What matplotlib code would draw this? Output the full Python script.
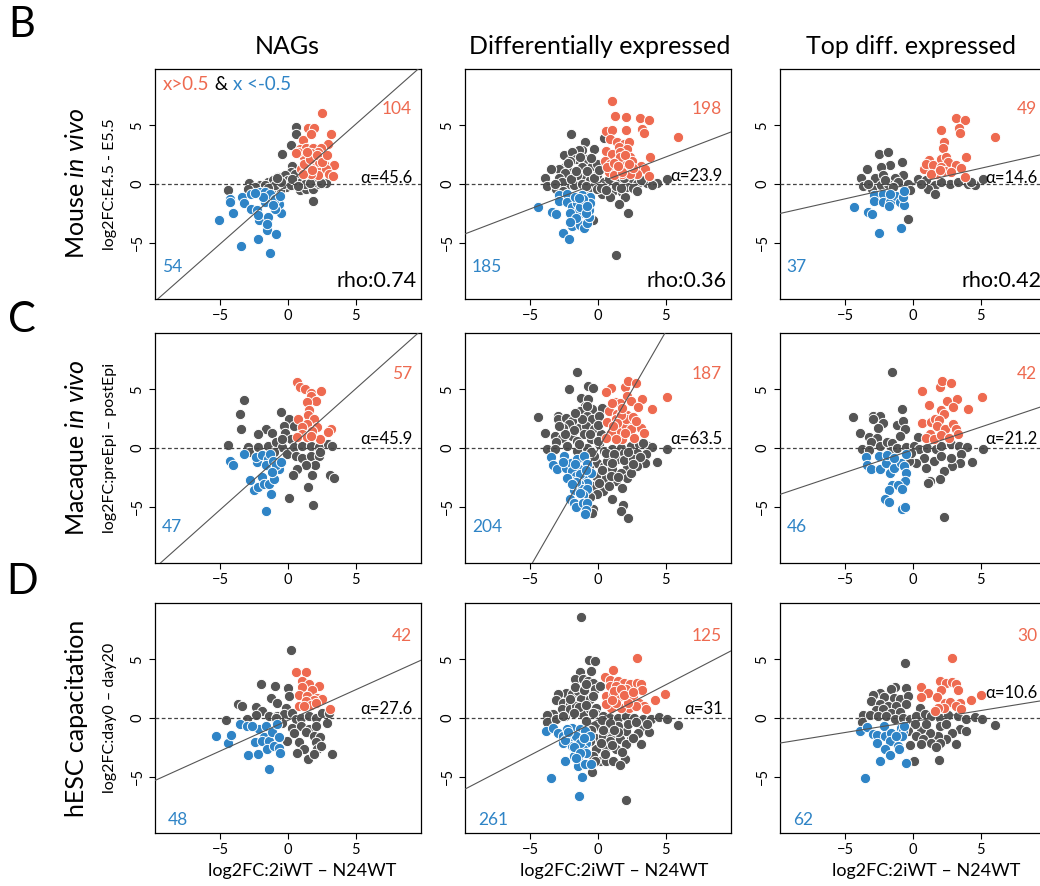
import numpy as np
import matplotlib
matplotlib.use("Agg")
import matplotlib.pyplot as plt

plt.rcParams['font.family'] = ['Lato', 'DejaVu Sans']
plt.rcParams['mathtext.fontset'] = 'custom'
plt.rcParams['mathtext.rm'] = 'Lato'
plt.rcParams['mathtext.it'] = 'Lato:italic'

# Labels
col_titles = ["NAGs", "Differentially expressed", "Top diff. expressed"]
row_letters = ["B", "C", "D"]
row_titles = ["Mouse $\\mathit{in\\ vivo}$", "Macaque $\\mathit{in\\ vivo}$", "hESC capacitation"]
row_ylabels = ["log2FC:E4.5 - E5.5", "log2FC:preEpi \u2013 postEpi", "log2FC:day0 \u2013 day20"]
xlabel = "log2FC:2iWT \u2013 N24WT"

# Annotations per panel (rows: mouse, macaque, hESC; cols: NAGs, DE, top DE)
up_counts = [[104, 198, 49], [57, 187, 42], [42, 125, 30]]
down_counts = [[54, 185, 37], [47, 204, 46], [48, 261, 62]]
rho_labels = ["rho:0.74", "rho:0.36", "rho:0.42"]
alphas = [[45.6, 23.9, 14.6], [45.9, 63.5, 21.2], [27.6, 31, 10.6]]
intercepts = [[0.0, 0.09, 0.04], [-0.1, -0.1, -0.15], [-0.2, -0.17, -0.3]]

# ---- Mouse in vivo ----
mouse_nags_grey = [(0.56, 4.83), (0.56, 4.27), (0.24, 3.33), (-0.41, 2.54), (0.3, 1.53), (0.24, 1.0),
    (1.83, -1.41), (-2.88, 0.08), (-4.39, -0.5), (-2.07, -0.05), (-1.46, 0.17), (-1.1, 0.3), (-0.73, 0.6),
    (-0.24, 0.73), (0.0, 0.3), (0.49, 0.17), (0.85, -0.54), (1.34, -0.4), (1.83, -0.4), (2.32, 0.03),
    (2.8, 0.08), (1.95, 0.17), (0.73, 0.6), (-0.12, -0.25), (-0.61, -0.54), (-1.22, -0.54), (-1.71, -0.11),
    (-2.44, -0.25), (-2.93, -0.4), (0.85, 0.17), (1.22, 0.03), (2.44, 0.08), (-0.98, -0.11), (-0.37, 0.03),
    (0.24, -0.11), (0.49, 0.88), (-0.5, 0.2), (0.3, 0.4), (-1.5, -0.3), (1.6, 0.1), (0.7, -0.2), (-0.8, 0.5)]
mouse_nags_up = [(2.5, 6.05), (1.46, 4.75), (1.9, 4.8), (3.17, 4.3), (1.1, 3.75), (1.66, 4.27), (2.93, 3.4),
    (0.85, 3.0), (1.34, 3.1), (1.83, 3.1), (2.44, 3.1), (2.2, 2.7), (1.7, 2.6), (1.2, 2.3), (2.07, 2.15),
    (2.56, 2.3), (3.4, 1.64), (2.68, 1.72), (1.95, 1.58), (1.34, 1.53), (0.98, 1.3), (1.46, 1.0), (2.07, 1.44),
    (2.44, 1.44), (2.8, 1.3), (3.05, 0.88), (3.29, 0.68), (2.2, 0.73), (1.7, 0.88), (1.1, 0.88), (0.73, 2.7),
    (0.6, 2.6), (1.15, 1.72), (2.3, 1.86), (1.6, 2.1), (2.1, 2.5), (1.8, 1.2), (2.5, 1.9), (1.4, 2.7), (2.9, 2.5)]
mouse_nags_down = [(-5.12, -3.05), (-4.24, -1.3), (-4.24, -1.53), (-4.02, -2.51), (-3.41, -1.1), (-3.22, -1.58),
    (-2.76, -0.82), (-2.76, -2.12), (-2.29, -2.23), (-2.15, -3.08), (-2.2, -2.63), (-3.46, -5.25), (-2.22, -4.72),
    (-1.34, -5.85), (-1.54, -3.93), (-1.46, -2.8), (-1.54, -3.45), (-0.85, -4.29), (-0.55, -2.49), (-0.66, -1.67),
    (-0.98, -2.09), (-1.22, -1.53), (-1.71, -1.53), (-2.07, -0.68), (-1.71, -0.68), (-1.34, -0.82), (-0.98, -1.24),
    (-0.6, -1.05), (-1.83, -1.1), (-2.44, -0.73), (-1.1, -1.81)]

mouse_de_grey = [(-1.96, 4.24), (-0.93, 3.54), (0.42, 3.9), (-1.18, 2.92), (-1.42, 2.92), (-2.52, 2.47),
    (-1.91, 2.7), (-0.32, 2.98), (-1.62, 2.13), (-0.81, 2.13), (-2.4, 1.49), (-2.89, 1.29), (-3.46, 1.26),
    (-1.18, 1.43), (-0.44, 1.57), (-1.91, 1.01), (-2.4, 0.93), (-3.87, 0.53), (-2.89, 0.51), (-3.75, -0.17),
    (-3.06, -0.45), (-2.28, -0.11), (-1.54, 0.17), (-1.05, 0.59), (-0.56, 0.31), (-0.07, 0.73), (0.42, 0.17),
    (1.03, 0.17), (1.64, 0.31), (2.38, 0.17), (2.87, 0.03), (3.6, 0.08), (4.34, 0.08), (5.07, 0.42),
    (3.97, -0.11), (1.15, -0.53), (1.76, -0.67), (0.29, -0.81), (0.91, -1.1), (2.01, -1.1), (1.52, -1.74),
    (2.2, -2.5), (-0.37, -3.03), (1.35, -6.07), (-0.93, -0.53), (-1.79, -0.11), (-2.65, 0.17), (-0.56, -0.25),
    (-0.07, -0.39), (0.54, -0.11), (2.13, -0.25), (-1.54, 0.73), (-2.03, 2.0), (-0.81, 1.15), (-0.07, 1.71),
    (-2.0, 0.4), (-1.2, 0.0), (-0.3, 0.5), (0.2, -0.3), (0.8, 0.4), (1.3, -0.2), (1.9, 0.5), (2.6, -0.3),
    (3.2, 0.3), (-1.6, 1.1), (-2.6, -0.6), (-0.9, -0.2), (0.1, 1.2), (-1.3, 2.3), (-2.2, 1.8), (0.6, -0.5),
    (1.7, -0.3), (2.9, -0.6), (-3.2, 0.0), (-0.5, 2.2)]
mouse_de_up = [(1.03, 7.1), (1.23, 5.76), (2.08, 5.73), (3.06, 5.65), (3.73, 5.45), (3.26, 4.72), (3.36, 4.35),
    (0.61, 4.52), (1.03, 4.6), (2.03, 4.58), (5.93, 4.02), (0.91, 3.82), (1.4, 3.54), (1.89, 3.4), (2.25, 3.54),
    (1.52, 3.12), (2.13, 2.98), (0.59, 2.84), (1.03, 2.56), (1.64, 2.7), (2.38, 2.28), (3.85, 2.28), (0.55, 2.0),
    (0.91, 1.71), (1.4, 2.0), (1.89, 1.71), (2.5, 2.0), (2.13, 1.29), (1.4, 1.29), (0.78, 1.01), (3.16, 1.57),
    (3.48, 1.29), (3.75, 0.65), (2.87, 0.87), (1.76, 0.87), (2.38, 0.87), (1.15, 0.73), (0.66, 1.43),
    (1.6, 2.3), (2.0, 2.5), (1.8, 1.0), (2.6, 1.4), (1.2, 1.8), (2.3, 1.7), (1.5, 1.5)]
mouse_de_down = [(-4.41, -1.94), (-3.38, -2.36), (-3.06, -2.58), (-2.57, -4.19), (-2.16, -4.69), (-2.89, -0.96),
    (-2.89, -1.43), (-2.28, -0.87), (-2.28, -1.52), (-1.91, -1.94), (-1.79, -2.7), (-1.91, -3.62), (-1.54, -3.06),
    (-1.3, -3.48), (-1.05, -3.76), (-0.81, -3.34), (-0.69, -2.78), (-1.18, -2.44), (-0.69, -2.22), (-1.05, -1.66),
    (-1.54, -1.66), (-1.18, -0.96), (-1.67, -1.1), (-0.61, -1.1), (-0.56, -1.66), (-1.42, -2.22), (-2.03, -2.5),
    (-1.3, -2.0), (-0.9, -2.5), (-1.6, -2.9), (-1.1, -1.3), (-0.8, -1.9), (-1.4, -1.2), (-2.1, -3.2)]

mouse_top_grey = [(-2.51, 2.56), (-1.84, 2.76), (-1.72, 1.58), (-2.33, 1.49), (-0.81, 1.86), (-3.39, 1.27),
    (-3.81, 0.54), (-2.83, 0.51), (-0.74, 0.73), (-2.21, 0.73), (-1.35, 0.51), (-3.69, -0.17), (-3.02, -0.45),
    (-2.33, -0.11), (-1.84, 0.03), (-1.11, 0.17), (-0.37, 0.03), (0.37, 0.45), (0.98, 0.31), (1.6, -0.11),
    (1.11, -0.39), (1.6, -0.82), (2.7, 0.03), (3.32, 0.17), (4.05, 0.03), (4.55, -0.06), (5.16, 0.45),
    (-0.37, -3.01), (-0.25, -0.54), (-1.47, -0.25), (0.61, 0.03), (2.09, 0.17), (4.3, 0.17), (-2.09, 0.31),
    (-3.32, 0.03)]
mouse_top_up = [(3.14, 5.66), (3.81, 5.46), (3.37, 4.73), (3.44, 4.34), (2.09, 4.59), (6.07, 4.03), (2.29, 3.61),
    (2.21, 3.07), (1.18, 2.08), (0.81, 1.3), (0.98, 1.72), (1.47, 1.58), (3.93, 2.28), (2.09, 2.14), (2.46, 2.28),
    (2.58, 1.86), (2.09, 1.44), (2.38, 1.1), (3.19, 1.58), (3.56, 1.38), (3.81, 0.59), (1.72, 0.87), (1.3, 0.82),
    (2.83, 1.01), (1.97, 1.21)]
mouse_top_down = [(-4.35, -1.94), (-3.32, -2.37), (-3.02, -2.59), (-2.51, -4.2), (-0.91, -3.77), (-2.87, -0.96),
    (-2.87, -1.44), (-2.21, -0.82), (-2.21, -1.52), (-1.72, -1.52), (-1.77, -1.89), (-1.28, -1.01), (-0.98, -1.52),
    (-0.66, -1.8), (-0.74, -1.1), (-0.69, -0.59), (-1.72, -0.82)]

# ---- Macaque in vivo ----
macaque_nags_grey = [(-3.22, 4.08), (-3.51, 2.93), (-3.46, 1.61), (-0.54, 3.1), (0.1, 2.45), (-1.59, 1.61),
    (-2.24, 1.18), (-1.15, 1.24), (-0.29, 1.89), (0.44, 1.89), (-0.24, 1.32), (0.2, 0.76), (-4.44, 0.28),
    (-2.98, 0.11), (-2.85, -0.37), (-2.24, 0.06), (-1.51, 0.2), (-0.9, 0.48), (-0.41, 0.06), (-0.05, -0.51),
    (0.44, 0.06), (1.05, 0.2), (1.66, 0.2), (2.27, 0.06), (2.95, 0.34), (3.24, 0.2), (0.56, -0.65), (1.05, -0.87),
    (1.66, -0.65), (2.27, -0.65), (2.02, -1.41), (1.29, -1.49), (0.63, -1.77), (0.39, -2.34), (1.78, -2.34),
    (1.46, -3.32), (3.12, -2.34), (3.41, -2.54), (0.07, -4.23), (1.83, -4.85), (2.39, -0.37), (-1.02, -0.37),
    (-0.41, 0.76)]
macaque_nags_up = [(0.68, 5.63), (0.85, 5.21), (1.24, 4.99), (1.73, 4.7), (1.73, 4.42), (2.44, 4.85), (2.07, 4.0),
    (1.41, 3.94), (1.54, 3.21), (1.49, 2.79), (0.76, 2.45), (1.9, 2.45), (1.41, 2.03), (2.1, 1.83), (1.05, 1.75),
    (1.78, 1.46), (1.05, 1.18), (0.68, 0.9), (1.41, 0.9), (2.39, 0.76), (3.2, 1.61), (2.93, 1.38), (1.66, 1.04)]
macaque_nags_down = [(-4.27, -1.07), (-4.05, -1.44), (-3.27, -0.54), (-2.78, -2.73), (-2.54, -3.55), (-2.24, -3.32),
    (-2.29, -1.21), (-1.95, -2.48), (-2.37, -0.79), (-1.88, -0.56), (-1.51, -0.93), (-1.59, -1.49), (-1.76, -3.04),
    (-1.39, -3.1), (-1.27, -3.92), (-1.59, -5.35), (-1.32, -0.51), (-1.07, -1.07), (-1.02, -2.62), (-0.66, -1.77),
    (-0.9, -1.49), (-0.54, -1.21), (-1.15, -2.06)]

macaque_de_grey = [(-1.53, 6.46), (-2.14, 5.07), (-0.74, 5.27), (-0.37, 5.13), (-1.23, 4.22), (-0.74, 4.14),
    (-4.41, 2.63), (-2.93, 2.72), (-2.93, 2.44), (-2.34, 2.58), (-1.9, 2.29), (-2.14, 2.07), (-2.59, 1.73),
    (-3.87, 1.3), (-3.2, 1.02), (-2.64, 0.88), (-3.13, 0.51), (-1.9, 1.02), (-1.4, 1.73), (-0.99, 3.57),
    (-1.33, 3.14), (-0.42, 3.29), (-0.79, 2.72), (-0.42, 2.44), (0.32, 3.43), (0.07, 2.72), (-0.91, 1.87),
    (-0.3, 1.59), (-1.03, 1.16), (-0.54, 0.74), (0.2, 1.16), (-1.53, 0.59), (-3.74, -0.11), (-3.2, -0.11),
    (-2.27, 0.17), (-1.53, -0.25), (-0.79, 0.03), (0.07, 0.31), (0.44, -0.25), (1.06, -0.11), (1.67, 0.03),
    (2.41, 0.17), (3.03, 0.31), (3.65, 0.17), (4.01, 0.08), (5.12, -0.06), (3.52, -0.54), (3.47, -1.25),
    (4.33, -1.19), (2.86, -1.53), (2.17, -1.67), (1.43, -0.96), (0.81, -0.68), (-0.05, -1.25), (0.44, -1.53),
    (1.06, -1.81), (1.67, -2.1), (1.31, -2.8), (2.17, -2.52), (1.8, -3.37), (0.44, -2.66), (-0.17, -2.38),
    (-0.3, -3.23), (0.39, -3.65), (-0.05, -3.94), (1.01, -4.36), (-0.34, -5.16), (-0.42, -5.5), (1.87, -4.87),
    (1.67, -5.35), (2.22, -5.95), (2.41, -0.68), (1.92, -0.4), (2.91, -0.4), (-0.3, -0.68), (-1.03, -0.82),
    (0.94, -2.38), (2.41, -2.1), (0.69, -1.1), (-0.67, -1.67),
    (-1.8, 1.5), (-1.2, 2.5), (-0.6, 1.2), (0.0, 0.6), (0.6, -0.4), (1.2, -0.5), (1.9, -1.0), (2.6, -0.9),
    (3.1, -0.8), (1.0, -1.3), (0.3, -1.9), (-0.5, -0.3), (-1.4, 0.3), (-2.4, 1.2), (-2.9, 1.9), (1.5, -2.5),
    (2.6, -1.4), (0.1, -3.0), (0.8, -3.2), (-0.6, -4.2), (0.0, 2.0), (-0.8, 3.6), (-1.7, 3.0), (3.3, 0.4),
    (2.2, -0.3)]
macaque_de_up = [(0.94, 5.13), (0.62, 4.76), (2.0, 5.21), (2.22, 5.69), (2.83, 5.55), (2.12, 4.42), (1.26, 3.91),
    (1.63, 3.8), (2.46, 3.97), (3.23, 4.14), (5.07, 4.36), (4.01, 3.29), (2.96, 3.51), (0.81, 3.14), (1.43, 2.92),
    (2.17, 2.78), (0.69, 2.21), (1.31, 2.44), (1.92, 1.87), (2.41, 2.44), (2.91, 2.01), (3.15, 1.73), (2.41, 1.59),
    (1.43, 1.44), (0.94, 1.3), (0.57, 0.88), (1.8, 0.79), (1.31, 0.74), (2.66, 0.88), (3.4, 1.3), (2.04, 2.44),
    (1.06, 3.85), (1.7, 2.8), (1.4, 2.1), (2.6, 2.6), (2.0, 1.3), (1.1, 1.9), (2.8, 2.3), (1.8, 3.4)]
macaque_de_down = [(-3.45, -0.74), (-3.35, -1.42), (-3.05, -1.76), (-2.39, -1.73), (-2.51, -0.68), (-2.02, -1.25),
    (-1.53, -0.96), (-1.03, -0.68), (-0.79, -1.39), (-1.4, -1.81), (-1.9, -1.95), (-1.65, -2.38), (-2.02, -2.8),
    (-1.03, -2.66), (-0.79, -2.95), (-1.4, -3.09), (-1.77, -3.57), (-1.16, -3.51), (-0.79, -3.51), (-1.08, -4.02),
    (-2.07, -4.36), (-1.77, -4.65), (-1.6, -5.07), (-1.08, -4.65), (-0.79, -4.7), (-0.91, -5.27), (-0.96, -5.64),
    (-0.54, -2.1), (-2.27, -2.52), (-1.3, -2.2), (-1.6, -2.9), (-1.3, -3.8), (-1.9, -3.1), (-0.9, -1.9),
    (-1.7, -1.4), (-2.6, -1.2)]

macaque_top_grey = [(-1.53, 6.46), (-0.81, 3.34), (-4.42, 2.63), (-2.94, 2.72), (-2.4, 2.72), (-2.94, 2.44),
    (-2.2, 2.1), (-2.59, 1.73), (-1.16, 1.93), (-0.74, 2.29), (-0.62, 1.59), (-0.96, 1.02), (-3.88, 1.3),
    (-3.21, 0.96), (-2.64, 0.88), (-3.09, 0.54), (-3.75, -0.11), (-3.26, -0.2), (-2.4, 0.17), (-1.9, 0.51),
    (-1.53, 0.4), (-1.65, -0.25), (-1.16, 0.03), (-0.54, 0.08), (0.4, 0.96), (0.07, 0.17), (0.44, -0.11),
    (1.06, 0.03), (1.68, -0.06), (2.05, 0.17), (2.79, 0.31), (3.41, 0.17), (3.98, 0.08), (5.14, -0.06),
    (3.53, -0.54), (3.46, -1.25), (4.32, -1.19), (2.84, -1.53), (2.25, -1.98), (1.98, -2.66), (1.26, -2.8),
    (1.11, -2.95), (0.94, -1.73), (1.56, -1.1), (0.81, -0.82), (0.2, -1.25), (-0.3, -1.1), (2.25, -5.92),
    (2.05, -0.68), (2.79, -0.82), (-0.17, -0.4)]
macaque_top_up = [(0.69, 4.84), (2.0, 5.21), (2.17, 5.69), (2.79, 5.55), (2.49, 3.97), (3.26, 4.14), (5.06, 4.36),
    (1.19, 3.63), (2.05, 3.23), (4.02, 3.29), (2.3, 2.92), (2.96, 3.51), (0.69, 2.15), (1.31, 2.24), (1.6, 2.49),
    (1.93, 2.38), (1.75, 1.87), (2.35, 1.59), (2.96, 2.01), (3.16, 1.64), (3.28, 1.16), (1.23, 1.16), (0.94, 0.88),
    (1.56, 0.74), (2.05, 1.08), (2.67, 0.88)]
macaque_top_down = [(-3.48, -0.74), (-3.38, -1.42), (-3.06, -1.76), (-2.4, -1.81), (-2.52, -0.68), (-1.98, -1.25),
    (-1.73, -2.1), (-1.41, -1.67), (-0.91, -1.25), (-0.55, -0.54), (-0.67, -1.53), (-0.54, -2.15), (-0.6, -2.8),
    (-1.53, -3.14), (-1.09, -3.14), (-1.78, -3.6), (-0.79, -3.51), (-2.07, -4.36), (-1.78, -4.59), (-0.79, -5.21),
    (-0.62, -5.01), (-1.9, -0.6), (-1.41, -0.82)]

# ---- hESC capacitation ----
hesc_nags_grey = [(0.25, 5.83), (-1.99, 2.86), (-0.96, 2.69), (-0.02, 2.55), (0.07, 1.9), (-3.66, 1.2),
    (-3.37, 1.01), (-2.38, 0.92), (-1.28, 1.71), (-0.84, 1.29), (-0.17, 0.87), (-1.89, 0.59), (-2.38, 0.25),
    (-3.0, -0.11), (-4.59, -0.2), (-1.4, 0.17), (-0.79, 0.17), (-0.29, 0.31), (0.32, 0.45), (0.57, -0.11),
    (0.93, 0.03), (1.55, 0.17), (2.04, 0.03), (2.48, 0.45), (3.02, 0.39), (2.9, -0.39), (0.32, -0.81),
    (0.93, -0.67), (1.55, -0.9), (2.04, -0.67), (1.3, -1.23), (0.44, -1.32), (-0.05, -1.93), (0.81, -2.02),
    (1.92, -1.51), (2.33, -1.6), (2.04, -2.07), (2.16, -2.63), (1.18, -2.63), (0.64, -2.97), (1.5, -3.53),
    (1.92, -3.05), (3.27, -3.05), (2.41, -2.35), (-0.42, -0.39), (-0.91, 0.03)]
hesc_nags_up = [(0.57, 3.92), (1.3, 3.89), (1.06, 3.17), (1.55, 2.89), (2.29, 2.69), (1.06, 2.61), (0.81, 1.99),
    (1.79, 2.41), (1.43, 1.9), (2.16, 1.71), (2.53, 1.62), (1.92, 1.57), (1.3, 1.43), (0.81, 1.01), (1.67, 1.15),
    (2.04, 1.29), (3.1, 0.73), (1.18, 1.01)]
hesc_nags_down = [(-5.33, -1.57), (-4.45, -2.13), (-4.2, -1.43), (-3.56, -0.53), (-2.95, -3.19), (-2.21, -3.08),
    (-2.43, -2.02), (-3.0, -0.67), (-2.14, -0.95), (-1.65, -0.67), (-1.77, -1.65), (-1.89, -1.99), (-1.4, -1.99),
    (-1.52, -2.63), (-1.03, -2.35), (-0.66, -2.58), (-0.59, -2.97), (-1.4, -4.31), (-1.15, -1.23), (-0.66, -1.65),
    (-2.63, -0.67), (-0.79, -0.53)]

hesc_de_grey = [(-1.22, 8.64), (-0.66, 4.97), (-0.2, 4.83), (-0.49, 3.98), (-1.34, 3.9), (-1.66, 3.33),
    (-1.1, 3.33), (-0.73, 3.14), (-0.37, 2.99), (-2.39, 2.15), (-2.93, 2.01), (-3.1, 1.5), (-1.95, 2.01),
    (-1.46, 2.29), (-0.85, 2.15), (-0.24, 2.43), (0.12, 2.71), (-1.22, 1.58), (-0.61, 1.58), (-2.56, 1.3),
    (-2.07, 1.16), (-2.68, 0.73), (-3.29, 0.31), (-3.78, 0.25), (-3.78, -0.31), (-3.1, -0.11), (-2.44, 0.17),
    (-2.07, 0.73), (-1.59, 1.02), (-1.1, 0.31), (-0.61, 0.73), (-0.12, 0.88), (-0.12, 0.31), (0.37, 0.17),
    (0.85, 0.03), (1.46, 0.03), (2.07, 0.17), (2.68, 0.03), (3.29, -0.06), (3.9, -0.11), (4.51, 0.08),
    (5.05, -0.06), (5.93, -0.56), (3.29, -0.9), (3.78, -1.19), (2.93, -1.24), (3.17, -2.23), (2.44, -1.81),
    (2.07, -1.1), (1.46, -0.68), (0.85, -0.96), (0.37, -0.68), (-0.24, -0.68), (-0.73, -1.24), (-0.24, -1.67),
    (0.37, -1.53), (0.98, -1.67), (1.59, -1.81), (2.07, -2.23), (1.34, -2.66), (0.61, -2.51), (-0.12, -2.66),
    (-0.37, -3.22), (0.12, -3.64), (0.61, -3.64), (1.1, -3.64), (2.02, -3.5), (1.59, -4.01), (-0.44, -4.58),
    (2.07, -6.98), (-0.61, -1.95), (0.85, -1.95), (-0.85, -0.25),
    (-1.7, 2.6), (-1.0, 2.4), (-0.4, 1.9), (-2.1, 1.6), (-1.4, 0.9), (-0.9, 1.1), (-0.4, 0.4), (0.3, -0.2),
    (0.9, -0.4), (1.5, -1.2), (2.2, -0.5), (2.6, -1.7), (1.0, -2.3), (0.2, -2.1), (-0.5, -1.0), (1.8, -2.9),
    (0.5, -3.1), (-0.2, -3.7), (1.2, -1.0), (2.8, -0.3), (-2.6, 0.2), (-1.8, 0.4), (-0.9, 2.9), (0.4, -1.0),
    (3.6, -0.5)]
hesc_de_up = [(2.88, 5.11), (1.1, 4.07), (0.55, 3.47), (0.85, 3.28), (1.46, 3.14), (1.95, 2.99), (2.39, 2.94),
    (2.85, 2.99), (3.17, 2.91), (0.85, 2.71), (1.34, 2.71), (2.07, 2.43), (3.22, 2.37), (0.61, 1.86), (1.1, 2.15),
    (1.59, 1.86), (2.56, 1.86), (4.95, 2.01), (4.22, 1.53), (3.05, 1.3), (3.41, 1.02), (3.54, 0.73), (2.32, 0.88),
    (1.71, 0.88), (0.98, 0.88), (1.34, 1.3), (0.61, 1.16), (2.8, 1.02), (1.2, 2.3), (1.7, 2.5), (1.0, 1.5),
    (2.2, 1.3), (1.9, 2.0), (2.6, 2.2)]
hesc_de_down = [(-3.85, -1.1), (-3.34, -0.82), (-3.46, -5.11), (-2.93, -1.3), (-2.61, -1.53), (-2.56, -2.09),
    (-2.44, -3.64), (-1.95, -0.82), (-2.07, -1.53), (-1.71, -1.95), (-1.95, -2.37), (-1.34, -0.96), (-0.98, -1.1),
    (-1.22, -1.67), (-0.85, -2.09), (-1.59, -2.66), (-1.1, -2.66), (-0.85, -2.94), (-1.46, -3.36), (-1.76, -3.22),
    (-1.46, -4.07), (-0.98, -3.93), (-0.54, -3.93), (-1.15, -5.0), (-1.39, -6.67), (-0.61, -1.53), (-2.32, -0.96),
    (-1.6, -1.5), (-1.3, -2.1), (-1.8, -2.5), (-1.0, -1.7), (-2.4, -1.9), (-1.3, -3.0), (-2.2, -1.2), (-1.6, -3.4)]

hesc_top_grey = [(-0.57, 4.69), (-1.31, 2.66), (-0.49, 2.57), (-1.65, 2.43), (-2.46, 2.15), (-2.96, 1.98),
    (-2.17, 1.81), (-1.43, 1.72), (-0.94, 1.58), (-0.37, 1.86), (-3.08, 1.44), (-2.46, 1.16), (-1.85, 1.02),
    (-1.23, 1.02), (-0.49, 1.16), (-2.71, 0.65), (-2.22, 0.73), (-1.6, 0.45), (-0.99, 0.51), (0.49, 0.88),
    (-3.69, 0.23), (-3.77, -0.31), (-3.2, 0.23), (-2.59, 0.17), (-1.97, 0.17), (-1.35, -0.11), (-0.74, 0.03),
    (-0.25, -0.11), (0.25, 0.17), (0.86, 0.31), (1.35, 0.17), (1.97, 0.03), (2.59, 0.23), (3.33, 0.17),
    (3.94, -0.06), (4.56, 0.08), (5.12, -0.06), (6.03, -0.56), (3.45, -0.9), (3.89, -1.13), (2.88, -1.3),
    (3.15, -2.23), (2.46, -1.81), (1.85, -1.53), (1.23, -1.24), (0.62, -0.96), (0.99, -0.54), (0.12, -0.54),
    (-0.37, -1.1), (0.25, -1.53), (0.74, -1.81), (1.35, -2.09), (1.97, -2.09), (1.72, -2.51), (0.62, -2.23),
    (-0.25, -2.29), (0.07, -3.64), (1.9, -3.59), (1.97, -0.68), (2.46, -0.54)]
hesc_top_up = [(2.91, 5.11), (0.62, 2.66), (2.02, 3.14), (2.46, 2.99), (2.88, 3.11), (3.2, 2.94), (2.09, 2.37),
    (3.33, 2.37), (1.11, 2.09), (0.57, 1.78), (1.8, 1.81), (4.98, 1.98), (4.26, 1.53), (2.34, 1.3), (2.71, 1.36),
    (3.45, 1.3), (3.2, 1.02), (3.5, 0.79), (2.29, 0.85), (1.85, 0.88), (1.6, 0.59)]
hesc_top_down = [(-3.89, -1.1), (-3.4, -0.79), (-3.52, -5.11), (-2.96, -1.33), (-2.64, -1.47), (-2.64, -2.09),
    (-2.46, -3.64), (-2.17, -0.68), (-2.09, -1.53), (-1.65, -1.24), (-1.72, -1.95), (-2.09, -2.66), (-1.72, -3.16),
    (-1.11, -2.37), (-1.06, -2.66), (-0.86, -0.82), (-0.74, -1.1), (-0.79, -1.53), (-0.5, -3.87), (-1.23, -1.53),
    (-0.69, -0.68)]

panels = [
    [(mouse_nags_grey, mouse_nags_up, mouse_nags_down),
     (mouse_de_grey, mouse_de_up, mouse_de_down),
     (mouse_top_grey, mouse_top_up, mouse_top_down)],
    [(macaque_nags_grey, macaque_nags_up, macaque_nags_down),
     (macaque_de_grey, macaque_de_up, macaque_de_down),
     (macaque_top_grey, macaque_top_up, macaque_top_down)],
    [(hesc_nags_grey, hesc_nags_up, hesc_nags_down),
     (hesc_de_grey, hesc_de_up, hesc_de_down),
     (hesc_top_grey, hesc_top_up, hesc_top_down)],
]

# Style / layout (pixels of the 1040x886 figure)
RED = "#EE6A50"
BLUE = "#2F84C6"
GREY = "#555555"
LINE = "#555555"
W, H = 1040, 886
lefts = [155, 465, 780]
tops = [69, 333, 603]
aw, ah = 266, 230
lim = 9.8
title_x = [287, 600, 911]
xlabel_x = [302, 614, 926]
letter_y = [25, 320, 582]
up_y = [6.4, 6.3, 7.0]
down_xy = [(-9.3, -7.1), (-9.3, -6.75), (-8.85, -8.7)]
alpha_y = [[0.55, 0.65, 0.5], [0.75, 0.8, 0.8], [0.78, 0.73, 2.1]]


def fx(px):
    return px / W


def fy(py):
    return 1 - py / H


fig = plt.figure(figsize=(W / 100, H / 100), dpi=100)

for r in range(3):
    for c in range(3):
        ax = fig.add_axes([fx(lefts[c]), fy(tops[r] + ah), aw / W, ah / H])
        grey, up, down = panels[r][c]
        for pts, col in ((grey, GREY), (up, RED), (down, BLUE)):
            xs, ys = zip(*pts)
            ax.scatter(xs, ys, s=55, c=col, edgecolors="white", linewidths=0.7, zorder=2)
        ax.axhline(0, color="#444444", lw=0.9, ls=(0, (3, 2)), zorder=3)
        ax.axline((0, intercepts[r][c]), slope=np.tan(np.radians(alphas[r][c])),
                  color=LINE, lw=0.8, zorder=3)
        ax.set_xlim(-lim, lim)
        ax.set_ylim(-lim, lim)
        ax.set_xticks([-5, 0, 5])
        ax.set_yticks([-5, 0, 5])
        ax.tick_params(direction="out", length=4.5, width=0.8, labelsize=10.5, pad=3)
        ax.tick_params(axis="y", labelrotation=90)
        for lab in ax.get_yticklabels():
            lab.set_va("center")
        for sp in ax.spines.values():
            sp.set_linewidth(0.9)

        ax.text(9.15, up_y[r], str(up_counts[r][c]), color=RED, fontsize=12.5,
                ha="right", va="center")
        ax.text(down_xy[r][0], down_xy[r][1], str(down_counts[r][c]), color=BLUE,
                fontsize=12.5, ha="left", va="center")
        ax.text(9.2, alpha_y[r][c], f"\u03b1={alphas[r][c]:g}", fontsize=12,
                ha="right", va="center", zorder=4)
        if r == 0:
            ax.text(9.45, -8.3, rho_labels[c], fontsize=15.5, ha="right", va="center")
        if r == 0 and c == 0:
            t1 = ax.text(-9.2, 8.45, "x>0.5", color=RED, fontsize=13.5, ha="left", va="center")
            t2 = ax.annotate(" & ", xy=(1, 0), xycoords=t1, ha="left", va="bottom",
                             fontsize=13.5, color="black")
            ax.annotate("x <-0.5", xy=(1, 0), xycoords=t2, ha="left", va="bottom",
                        fontsize=13.5, color=BLUE)
        if r == 2:
            fig.text(fx(xlabel_x[c]), fy(871), xlabel, fontsize=13, ha="center", va="center")

    yc = fy(tops[r] + ah / 2)
    fig.text(fx(76), yc, row_titles[r], rotation=90, fontsize=18, ha="center", va="center")
    fig.text(fx(110), yc, row_ylabels[r], rotation=90, fontsize=11.5, ha="center", va="center")
    fig.text(fx(22), fy(letter_y[r]), row_letters[r], fontsize=30, ha="center", va="center")

for c in range(3):
    fig.text(fx(title_x[c]), fy(47), col_titles[c], fontsize=18, ha="center", va="center")

fig.savefig("out.png", dpi=100)
